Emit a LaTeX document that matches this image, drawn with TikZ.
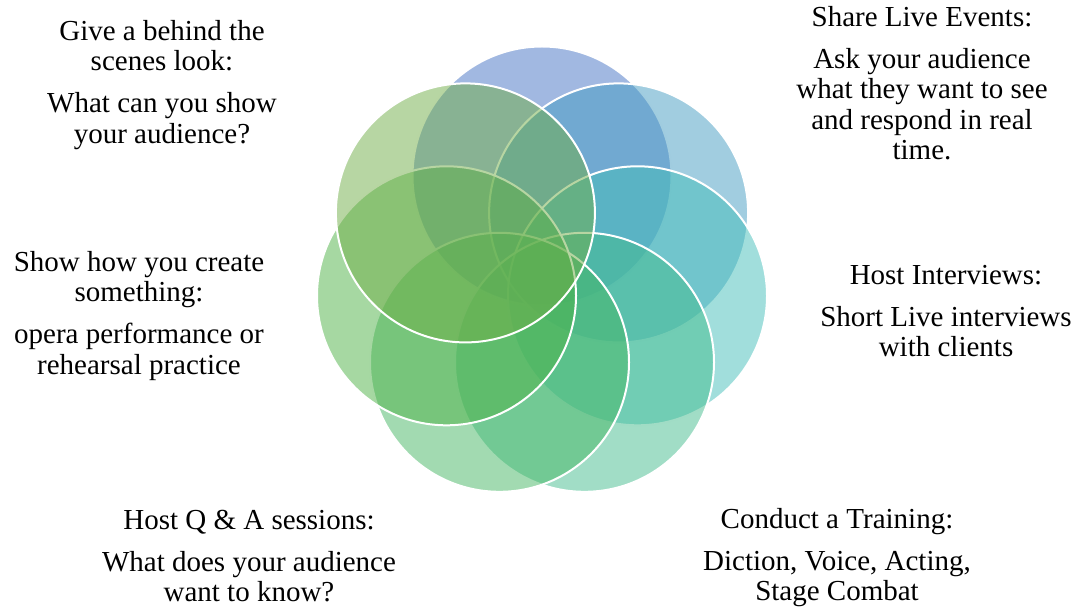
\documentclass[tikz,border=0pt]{standalone}
\usepackage{fontspec}
\setmainfont{Liberation Serif}
\usepackage{xcolor}
\usepackage{tikz}
\definecolor{petalone}{RGB}{68,114,196}
\definecolor{petaltwo}{RGB}{67,155,193}
\definecolor{petalthree}{RGB}{67,190,185}
\definecolor{petalfour}{RGB}{67,187,141}
\definecolor{petalfive}{RGB}{69,182,100}
\definecolor{petalsix}{RGB}{77,177,70}
\definecolor{petalseven}{RGB}{112,173,71}

\begin{document}
\begin{tikzpicture}[x=1bp,y=-1bp,every node/.style={draw=none,align=center,inner sep=0pt},
petal/.style={circle,draw=white,line width=2bp,fill opacity=0.5,minimum size=259bp},
caption/.style={anchor=north,font=\fontsize{29bp}{30.5bp}\selectfont}]
\useasboundingbox (0,0) rectangle (1079,607);

\draw node[petal,fill=petalone] at (542,176) (pa) {};
\draw node[petal,fill=petaltwo] at (618.6,212.9) (pb) {};
\draw node[petal,fill=petalthree] at (637.5,295.8) (pc) {};
\draw node[petal,fill=petalfour] at (584.5,362.3) (pd) {};
\draw node[petal,fill=petalfive] at (499.5,362.3) (pe) {};
\draw node[petal,fill=petalsix] at (446.5,295.8) (pf) {};
\draw node[petal,fill=petalseven] at (465.4,212.9) (pg) {};

\draw node[caption] at (162,20) (behind) {Give a behind the\\ scenes look:\\[11.5bp] What can you show\\ your audience?};
\draw node[caption] at (922,6) (live) {Share Live Events:\\[11.5bp] Ask your audience\\ what they want to see\\ and respond in real\\ time.};
\draw node[caption] at (139,251) (create) {Show how you create\\ something:\\[11.5bp] opera performance or\\ rehearsal practice};
\draw node[caption] at (946,265) (interview) {Host Interviews:\\[11.5bp] Short Live interviews\\ with clients};
\draw node[caption] at (249,510) (qa) {Host Q \& A sessions:\\[11.5bp] What does your audience\\ want to know?};
\draw node[caption] at (837,508) (training) {Conduct a Training:\\[11.5bp] Diction, Voice, Acting,\\ Stage Combat};

\end{tikzpicture}
\end{document}
